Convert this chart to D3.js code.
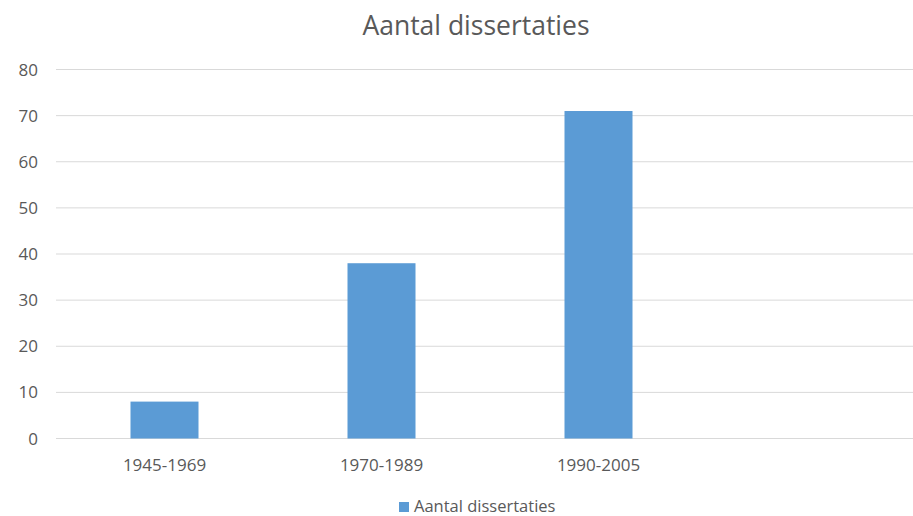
<!DOCTYPE html>
<html>
<head>
<meta charset="utf-8">
<script src="https://cdn.jsdelivr.net/npm/d3@7"></script>
<style>
  body { margin: 0; background: #fff; }
  text { font-family: "Open Sans", sans-serif; fill: #595959; }
</style>
</head>
<body>
<svg id="chart" width="913" height="516"></svg>
<script>
var title = "Aantal dissertaties";
var categories = ["1945-1969", "1970-1989", "1990-2005", ""];
var values = [8, 38, 71, null];
var yTicks = [0, 10, 20, 30, 40, 50, 60, 70, 80];

var svg = d3.select("#chart");

var x = d3.scaleBand().domain(categories).range([56, 924]).paddingInner(0).paddingOuter(0);
var y = d3.scaleLinear().domain([0, 80]).range([438.5, 69.5]);

var barW = 68;

// gridlines
svg.append("g")
    .selectAll("line")
    .data(yTicks)
    .enter().append("line")
    .attr("x1", 56).attr("x2", 924)
    .attr("y1", d => y(d)).attr("y2", d => y(d))
    .attr("stroke", "#d9d9d9")
    .attr("stroke-width", 1);

// y labels
svg.append("g")
    .selectAll("text")
    .data(yTicks)
    .enter().append("text")
    .attr("x", 38)
    .attr("y", d => y(d))
    .attr("dy", "0.36em")
    .attr("text-anchor", "end")
    .style("font-size", "17px")
    .text(d => d);

// bars
var data = categories.map((c, i) => ({c: c, v: values[i]})).filter(d => d.v != null);
svg.append("g")
    .selectAll("rect")
    .data(data)
    .enter().append("rect")
    .attr("x", d => x(d.c) + x.bandwidth() / 2 - barW / 2)
    .attr("width", barW)
    .attr("y", d => y(d.v))
    .attr("height", d => y(0) - y(d.v))
    .attr("fill", "#5b9bd5");

// x labels
svg.append("g")
    .selectAll("text")
    .data(categories)
    .enter().append("text")
    .attr("x", d => x(d) + x.bandwidth() / 2)
    .attr("y", 471)
    .attr("text-anchor", "middle")
    .style("font-size", "17px")
    .text(d => d);

// title
svg.append("text")
    .attr("x", 476)
    .attr("y", 35)
    .attr("text-anchor", "middle")
    .style("font-size", "26.5px")
    .text(title);

// legend
svg.append("rect")
    .attr("x", 399).attr("y", 502)
    .attr("width", 10).attr("height", 10)
    .attr("fill", "#5b9bd5");
svg.append("text")
    .attr("x", 414)
    .attr("y", 512)
    .style("font-size", "16.5px")
    .text(title);
</script>
</body>
</html>
